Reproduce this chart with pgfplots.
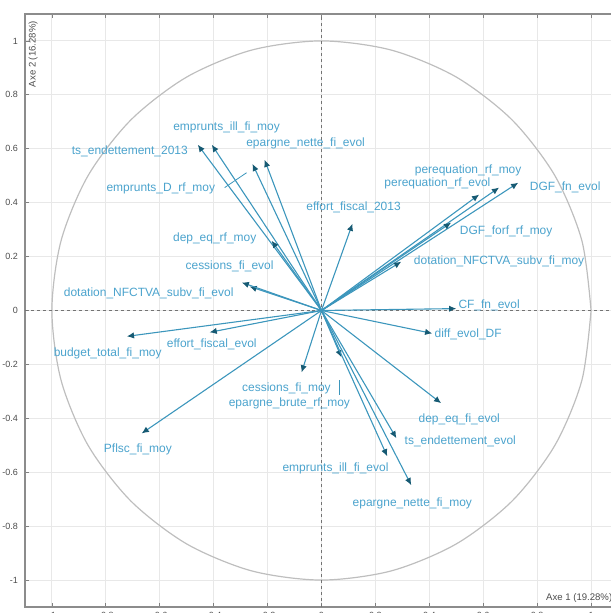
\documentclass[border=0pt]{standalone}
\usepackage{pgfplots}
\pgfplotsset{compat=1.18}
\usepackage{pgfplotstable}
\usepackage{fontspec}
\setmainfont{Liberation Sans}
\usetikzlibrary{arrows.meta}
\definecolor{arrowcol}{RGB}{60,150,188}
\definecolor{headcol}{RGB}{22,90,115}
\definecolor{labcol}{RGB}{75,163,205}
\definecolor{gridcol}{RGB}{232,232,232}
\definecolor{circcol}{RGB}{190,190,190}

\pgfplotstableread[col sep=comma]{
x,y,lx,ly,name
-0.459,0.615,-0.711,0.589,ts\_endettement\_2013
-0.407,0.615,-0.352,0.678,emprunts\_ill\_fi\_moy
-0.256,0.544,-0.596,0.452,emprunts\_D\_rf\_moy
-0.211,0.559,-0.059,0.619,epargne\_nette\_fi\_evol
0.115,0.322,0.119,0.381,effort\_fiscal\_2013
0.585,0.430,0.430,0.470,perequation\_rf\_evol
0.659,0.456,0.544,0.519,perequation\_rf\_moy
0.730,0.474,0.904,0.456,DGF\_fn\_evol
0.481,0.326,0.685,0.293,DGF\_forf\_rf\_moy
0.296,0.181,0.659,0.181,dotation\_NFCTVA\_subv\_fi\_moy
0.500,0.007,0.622,0.019,CF\_fn\_evol
0.411,-0.085,0.544,-0.089,diff\_evol\_DF
-0.185,0.259,-0.396,0.267,dep\_eq\_rf\_moy
-0.267,0.089,-0.341,0.163,cessions\_fi\_evol
-0.296,0.104,-0.641,0.063,dotation\_NFCTVA\_subv\_fi\_evol
-0.722,-0.096,-0.793,-0.159,budget\_total\_fi\_moy
-0.415,-0.081,-0.407,-0.126,effort\_fiscal\_evol
-0.074,-0.230,-0.130,-0.289,cessions\_fi\_moy
0.074,-0.174,-0.119,-0.344,epargne\_brute\_rf\_moy
-0.667,-0.456,-0.681,-0.515,Pflsc\_fi\_moy
0.444,-0.344,0.511,-0.404,dep\_eq\_fi\_evol
0.278,-0.474,0.515,-0.485,ts\_endettement\_evol
0.244,-0.541,0.052,-0.585,emprunts\_ill\_fi\_evol
0.333,-0.648,0.337,-0.715,epargne\_nette\_fi\_moy
}\vars

\pgfplotstableread{
ang x y
0 1.000 0.000
15 0.966 0.259
30 0.866 0.500
45 0.707 0.707
60 0.500 0.866
75 0.259 0.966
90 0.000 1.000
105 -0.259 0.966
120 -0.500 0.866
135 -0.707 0.707
150 -0.866 0.500
165 -0.966 0.259
180 -1.000 0.000
195 -0.966 -0.259
210 -0.866 -0.500
225 -0.707 -0.707
240 -0.500 -0.866
255 -0.259 -0.966
270 0.000 -1.000
285 0.259 -0.966
300 0.500 -0.866
315 0.707 -0.707
330 0.866 -0.500
345 0.966 -0.259
360 1.000 0.000
}\circdata

\begin{document}
\begin{tikzpicture}
\begin{axis}[
  width=297pt, height=297pt, scale only axis,
  xmin=-1.1, xmax=1.1, ymin=-1.1, ymax=1.1,
  xtick={-1,-0.8,-0.6,-0.4,-0.2,0,0.2,0.4,0.6,0.8,1},
  ytick={-1,-0.8,-0.6,-0.4,-0.2,0,0.2,0.4,0.6,0.8,1},
  xticklabels={-1,-0.8,-0.6,-0.4,-0.2,0,0.2,0.4,0.6,0.8,1},
  yticklabels={-1,-0.8,-0.6,-0.4,-0.2,0,0.2,0.4,0.6,0.8,1},
  grid=major,
  major grid style={gridcol, line width=0.5pt},
  axis line style={black!45, line width=0.8pt},
  tick style={black!50, line width=0.4pt},
  major tick length=2pt,
  tick label style={font=\fontsize{4.5}{5}\selectfont, text=black!70},
  xticklabel style={yshift=1pt},
  /pgf/number format/assume math mode=true,
  clip=false,
]
% unit circle
\addplot[circcol, line width=0.6pt, smooth] table[x=x,y=y]{\circdata};
% dashed zero lines
\addplot[black!55, line width=0.5pt, dash pattern=on 1.5pt off 1.5pt] coordinates {(-1.1,0) (1.1,0)};
\addplot[black!55, line width=0.5pt, dash pattern=on 1.5pt off 1.5pt] coordinates {(0,-1.1) (0,1.1)};
% arrows
\addplot[arrowcol, line width=0.55pt,
  quiver={u=\thisrow{x}, v=\thisrow{y}},
  -{Latex[length=3.6pt,width=3.2pt,color=headcol]}]
  table[x expr=0, y expr=0]{\vars};
% leader lines
\addplot[arrowcol, line width=0.4pt] coordinates {(-0.359,0.456) (-0.278,0.511)};
\addplot[arrowcol, line width=0.4pt] coordinates {(0.067,-0.259) (0.067,-0.315)};
% labels
\addplot[only marks, mark=none, nodes near coords, point meta=explicit symbolic,
  nodes near coords style={anchor=center, inner sep=0pt, text=labcol,
    font=\fontsize{6}{6}\selectfont}]
  table[x=lx, y=ly, meta=name]{\vars};
% axis titles
\node[rotate=90, anchor=east, inner sep=0pt, text=black!70,
  font=\fontsize{4.8}{5}\selectfont] at (axis cs:-1.07,1.075) {Axe 2 (16.28\%)};
\node[anchor=east, inner sep=0pt, text=black!70,
  font=\fontsize{4.8}{5}\selectfont] at (axis cs:1.08,-1.067) {Axe 1 (19.28\%)};
\end{axis}
\pgfresetboundingbox
\path[use as bounding box] ([xshift=-12.5pt,yshift=-3pt]current axis.south west) rectangle ([xshift=-4pt,yshift=7pt]current axis.north east);
\end{tikzpicture}
\end{document}
